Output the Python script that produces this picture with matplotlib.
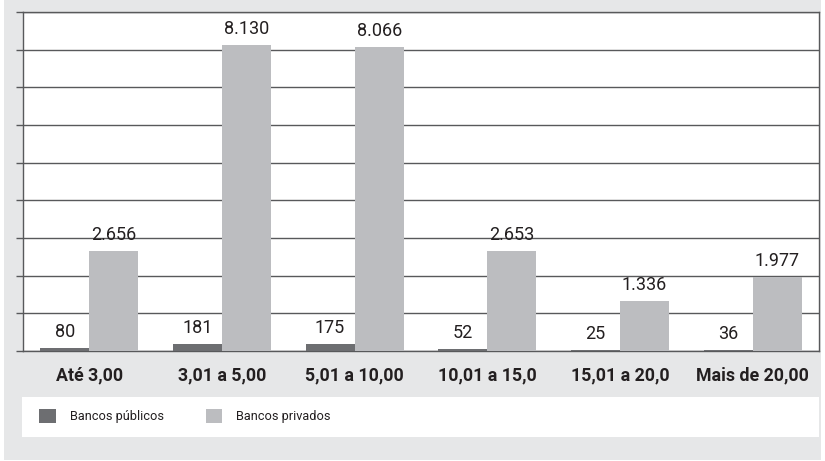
import matplotlib.pyplot as plt
import matplotlib.patches as mpatches
import numpy as np

plt.rcParams['font.family'] = ['Roboto', 'DejaVu Sans']

categorias = ['Até 3,00', '3,01 a 5,00', '5,01 a 10,00', '10,01 a 15,0', '15,01 a 20,0', 'Mais de 20,00']
publicos = [80, 181, 175, 52, 25, 36]
privados = [2656, 8130, 8066, 2653, 1336, 1977]
series_nomes = ['Bancos públicos', 'Bancos privados']

cor_pub = '#6d6e71'
cor_priv = '#bcbdc0'
cor_linha = '#58595b'
fundo = '#e6e7e8'

W, H = 825, 461
fig = plt.figure(figsize=(W / 100, H / 100), dpi=100, facecolor='white')

# painel cinza de fundo
fig.add_artist(mpatches.Rectangle((4 / W, 1 / H), 817 / W, 460 / H, transform=fig.transFigure,
                                  facecolor=fundo, edgecolor='none', zorder=0))
# caixa branca da legenda
fig.add_artist(mpatches.Rectangle((22 / W, (H - 437) / H), 797 / W, 40 / H, transform=fig.transFigure,
                                  facecolor='white', edgecolor='none', zorder=1))

ax = fig.add_axes([23 / W, (H - 351) / H, 796 / W, 339 / H])
ax.set_facecolor('white')

x = np.arange(len(categorias))
w = 0.37
b1 = ax.bar(x - w / 2, publicos, w, color=cor_pub, label=series_nomes[0], zorder=3)
b2 = ax.bar(x + w / 2, privados, w, color=cor_priv, label=series_nomes[1], zorder=3)

def fmt(v):
    return f'{v:,}'.replace(',', '.')

for bars, vals in [(b1, publicos), (b2, privados)]:
    for r, v in zip(bars, vals):
        ax.annotate(fmt(v), (r.get_x() + r.get_width() / 2, v), xytext=(0, 5),
                    textcoords='offset points', ha='center', va='bottom',
                    fontsize=13, color='#231f20')

ax.set_xlim(-0.5, len(categorias) - 0.5)
ax.set_ylim(0, 9000)
ax.set_yticks(np.arange(0, 9001, 1000))
ax.set_yticklabels([])
ax.yaxis.grid(True, color=cor_linha, linewidth=1)
ax.set_axisbelow(True)
ax.tick_params(axis='y', length=5, width=1, color=cor_linha, direction='out')
ax.set_xticks(x)
ax.set_xticklabels(categorias, fontsize=12.8, fontweight='bold', color='#231f20')
ax.tick_params(axis='x', length=0, pad=11)
for s in ax.spines.values():
    s.set_color(cor_linha)
    s.set_linewidth(1)

fig.legend(handles=[b1, b2], labels=series_nomes, loc='center left',
           bbox_to_anchor=(39 / W, (H - 416) / H), ncol=2, frameon=False,
           borderpad=0, borderaxespad=0,
           fontsize=9.2, handlelength=1.3, handleheight=1.3, handletextpad=1.1,
           columnspacing=3.3, labelcolor='#231f20')

fig.savefig('out.png', dpi=100, facecolor=fig.get_facecolor())
